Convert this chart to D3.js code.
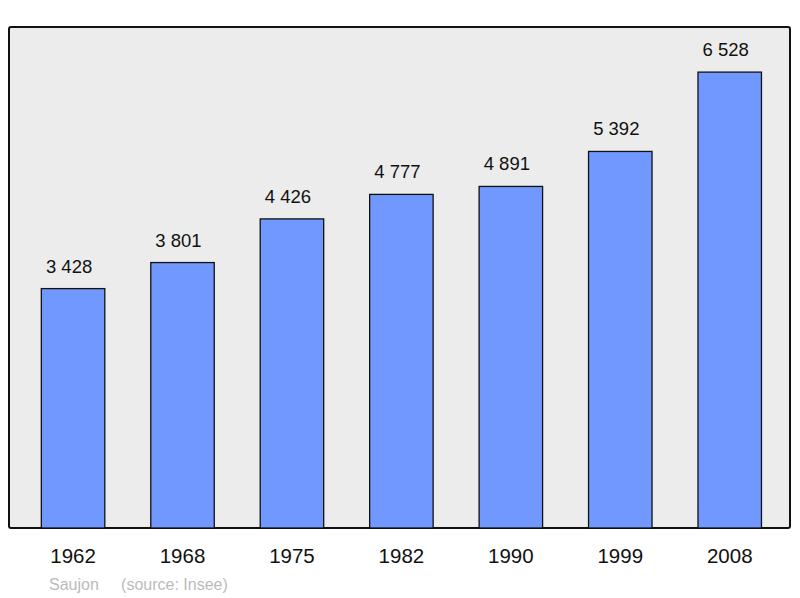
<!DOCTYPE html>
<html>
<head>
<meta charset="utf-8">
<script src="https://cdn.jsdelivr.net/npm/d3@7"></script>
<style>
  body { margin: 0; background: #fff; }
  text { font-family: "Liberation Sans", Arial, sans-serif; }
</style>
</head>
<body>
<svg id="chart" width="800" height="598"></svg>
<script>
var years = ["1962", "1968", "1975", "1982", "1990", "1999", "2008"];
var population = [3428, 3801, 4426, 4777, 4891, 5392, 6528];
var labels = ["3 428", "3 801", "4 426", "4 777", "4 891", "5 392", "6 528"];

var svg = d3.select("#chart");

var x = d3.scaleBand()
    .domain(years)
    .range([18.35, 784.45])
    .paddingInner(0.42)
    .paddingOuter(0.21);

var y = d3.scaleLinear()
    .domain([0, 7174])
    .range([528, 27]);

svg.append("rect")
    .attr("x", 9).attr("y", 27)
    .attr("width", 781).attr("height", 501)
    .attr("rx", 2)
    .attr("fill", "#ececec")
    .attr("stroke", "#111")
    .attr("stroke-width", 2);

var bars = svg.selectAll(".bar")
    .data(years)
    .enter().append("g");

bars.append("rect")
    .attr("x", function(d) { return x(d); })
    .attr("y", function(d, i) { return y(population[i]); })
    .attr("width", x.bandwidth())
    .attr("height", function(d, i) { return y(0) - y(population[i]); })
    .attr("fill", "#7098ff")
    .attr("stroke", "#111")
    .attr("stroke-width", 1.3);

bars.append("text")
    .attr("x", function(d) { return x(d) + x.bandwidth() / 2 - 4; })
    .attr("y", function(d, i) { return y(population[i]) - 16; })
    .attr("text-anchor", "middle")
    .attr("font-size", 18.5)
    .attr("fill", "#111")
    .text(function(d, i) { return labels[i]; });

bars.append("text")
    .attr("x", function(d) { return x(d) + x.bandwidth() / 2; })
    .attr("y", 563)
    .attr("text-anchor", "middle")
    .attr("font-size", 20.5)
    .attr("fill", "#111")
    .text(function(d) { return d; });

svg.append("text")
    .attr("x", 49).attr("y", 590)
    .attr("font-size", 16)
    .attr("fill", "#bbb")
    .attr("xml:space", "preserve")
    .style("white-space", "pre")
    .text("Saujon     (source: Insee)");
</script>
</body>
</html>
